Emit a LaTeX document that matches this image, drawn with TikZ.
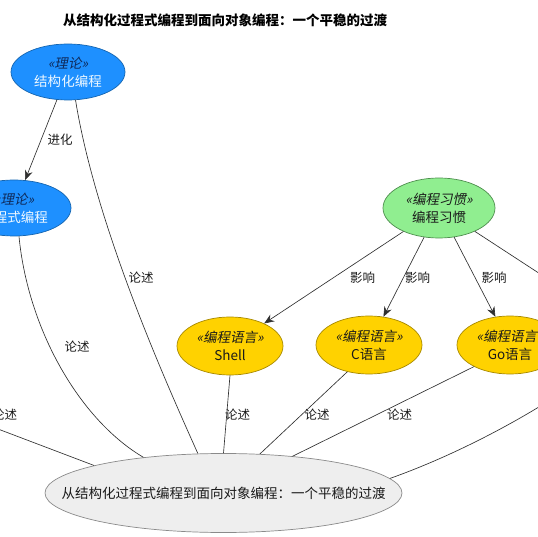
\documentclass[tikz,border=0pt]{standalone}
\usepackage{fontspec}
\setmainfont{Noto Sans CJK SC}
\newfontfamily\stfont[FakeSlant=0.2]{Noto Sans CJK SC}
\usetikzlibrary{shapes.geometric,arrows.meta}
\definecolor{blueF}{HTML}{1E90FF}
\definecolor{blueD}{HTML}{1565B0}
\definecolor{navyT}{HTML}{0F2A5A}
\definecolor{nameW}{HTML}{EEF8FF}
\definecolor{greenF}{HTML}{90EE90}
\definecolor{greenD}{HTML}{4E8E4E}
\definecolor{goldF}{HTML}{FFD200}
\definecolor{goldD}{HTML}{A88A00}
\definecolor{grayF}{HTML}{EEEEEE}
\definecolor{grayD}{HTML}{8A8A8A}
\definecolor{lineC}{HTML}{303030}
\definecolor{txtC}{HTML}{1A1A1A}
\begin{document}
\begin{tikzpicture}[x=1pt,y=-1pt,
  uc/.style={ellipse, draw, inner sep=0pt, align=center, line width=0.7pt,
    font=\fontsize{13.5}{18}\selectfont},
  theory/.style={uc, fill=blueF, draw=blueD, text=nameW, minimum width=114pt, minimum height=56pt},
  habit/.style={uc, fill=greenF, draw=greenD, text=txtC, minimum width=112pt, minimum height=60pt},
  lang/.style={uc, fill=goldF, draw=goldD, text=txtC, minimum width=106pt, minimum height=58pt},
  topic/.style={uc, fill=grayF, draw=grayD, text=txtC, inner xsep=-45pt, minimum width=357pt, minimum height=79pt},
  lbl/.style={font=\fontsize{12.5}{14}\selectfont, inner sep=0pt, text=txtC},
  conn/.style={draw=lineC, line width=0.65pt},
  arr/.style={conn, -{Stealth[length=10pt,width=8pt]}}
]
\useasboundingbox (0,0) rectangle (538,537);
\clip (0,0) rectangle (538,537);

\node[font=\bfseries\fontsize{13.5}{16}\selectfont, text=black] (title) at (225,20) {从结构化过程式编程到面向对象编程：一个平稳的过渡};

\node[theory] (A) at (68,72) {{\stfont\textcolor{navyT}{«理论»}}\\结构化编程};
\node[theory] (B) at (14,208) {{\stfont\textcolor{navyT}{«理论»}}\\过程式编程};
\node[habit] (G) at (439,208) {{\stfont«编程习惯»}\\编程习惯};
\node[lang] (S) at (230,346) {{\stfont«编程语言»}\\Shell};
\node[lang] (C) at (369,345) {{\stfont«编程语言»}\\C语言};
\node[lang] (Go) at (510,345) {{\stfont«编程语言»}\\Go语言};
\node[topic] (T) at (223.5,493) {从结构化过程式编程到面向对象编程：一个平稳的过渡};

\coordinate (L) at (-60,407);
\coordinate (R1) at (600,313);
\coordinate (R2) at (620,350);

\draw[arr] (A) -- (B);
\draw[conn] (A.285) .. controls (95,220) and (158,365) .. (T.123);
\draw[conn] (B.280) .. controls (28,330) and (80,420) .. (T.156);
\draw[conn] (L) -- (T.168);
\draw[conn] (S.south) -- (T.north);
\draw[conn] (C.231) -- (T.47);
\draw[conn] (Go.211) -- (T.28);
\draw[conn] (R2) .. controls (560,400) and (470,450) .. (T.5);
\draw[arr] (G) -- (S);
\draw[arr] (G) -- (C);
\draw[arr] (G) -- (Go);
\draw[arr] (G) -- (R1);

\node[lbl] (l1) at (60,140) {进化};
\node[lbl] (l2) at (141,278) {论述};
\node[lbl] (l3) at (77,347) {论述};
\node[lbl] (l4) at (4.5,415) {论述};
\node[lbl] (l5) at (237.5,415) {论述};
\node[lbl] (l6) at (317,415) {论述};
\node[lbl] (l7) at (399.5,415) {论述};
\node[lbl] (i1) at (362.5,278) {影响};
\node[lbl] (i2) at (417.5,278) {影响};
\node[lbl] (i3) at (494,278) {影响};
\end{tikzpicture}
\end{document}
